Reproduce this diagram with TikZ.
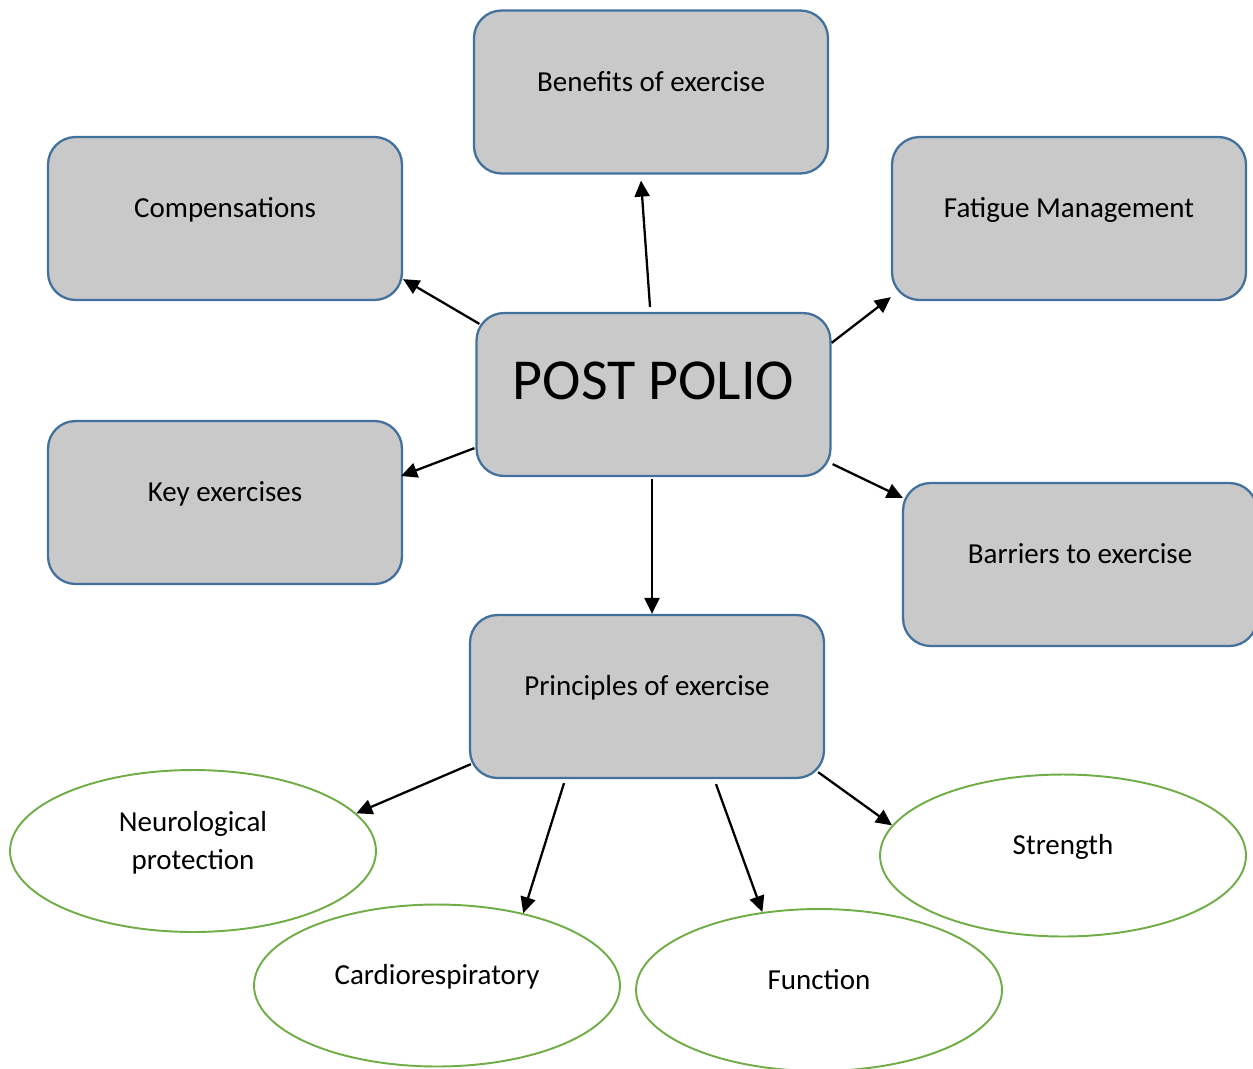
\documentclass[tikz,border=0pt]{standalone}
\usepackage{fontspec}
\setmainfont{Carlito}
\usetikzlibrary{arrows.meta,shapes.geometric}
\definecolor{boxfill}{HTML}{C9C9C9}
\definecolor{boxline}{HTML}{41719C}
\definecolor{ovalline}{HTML}{70AD47}

\begin{document}
\begin{tikzpicture}[x=0.02cm, y=-0.02cm,
        topic/.style = {draw=boxline, fill=boxfill, line width=1.3pt, rounded corners=0.55cm,
            minimum width=7.08cm, minimum height=3.26cm, inner sep=0pt,
            font=\fontsize{16.5}{20}\selectfont, text height=0.38cm, text depth=0.42cm},
        oval/.style = {ellipse, draw=ovalline, line width=1.1pt, minimum width=7.32cm,
            minimum height=3.24cm, inner sep=0pt,
            font=\fontsize{16.5}{21.5}\selectfont, text height=0.38cm, text depth=0.42cm},
        link/.style = {draw, line width=1.3pt, -{Triangle[length=0.32cm,width=0.3cm]}}]
        \useasboundingbox (0,0) rectangle (1253,1068);
        % boxes
        \node[topic] (benefits) at (651,92) {Benefits of exercise};
        \node[topic] (comp) at (225,218.5) {Compensations};
        \node[topic] (fatigue) at (1069,218.5) {Fatigue Management};
        \node[topic, font=\fontsize{33}{40}\selectfont, text height=0.8cm, text depth=0.6cm]
            (post) at (653.5,394.5) {POST POLIO};
        \node[topic] (key) at (225,502.5) {Key exercises};
        \node[topic] (barriers) at (1080,564.5) {Barriers to exercise};
        \node[topic] (principles) at (647,696.5) {Principles of exercise};
        % ovals
        \node[oval, align=center, text height=1.14cm, text depth=0.42cm]
            (neuro) at (193,851) {Neurological\\protection};
        \node[oval] (cardio) at (437,985.5) {Cardiorespiratory};
        \node[oval] (func) at (819,990) {Function};
        \node[oval] (strength) at (1063,855.5) {Strength};
        % arrows from post polio
        \path[link]([shift={(-3.5,-5)}]post.north)to([shift={(-10,6)}]benefits.south);
        \path[link]([shift={(4,12)}]post.north west)to([shift={(0,-22)}]comp.south east);
        \path[link]([shift={(0,31)}]post.north east)to([shift={(0,-4)}]fatigue.south west);
        \path[link]([shift={(-1,-29)}]post.south west)to([shift={(-2,-26.5)}]key.east);
        \path[link]([shift={(1,-13)}]post.south east)to([shift={(1,16)}]barriers.north west);
        \path[link]([shift={(-1.5,2)}]post.south)to([shift={(5,0)}]principles.north);
        % arrows from principles
        \path[link]([shift={(2,-15)}]principles.south west)to(neuro.13);
        \path[link]([shift={(-83,4)}]principles.south)to(cardio.40);
        \path[link]([shift={(69,5)}]principles.south)to(func.126);
        \path[link]([shift={(-7,-7)}]principles.south east)to(strength.170);
    \end{tikzpicture}
\end{document}
